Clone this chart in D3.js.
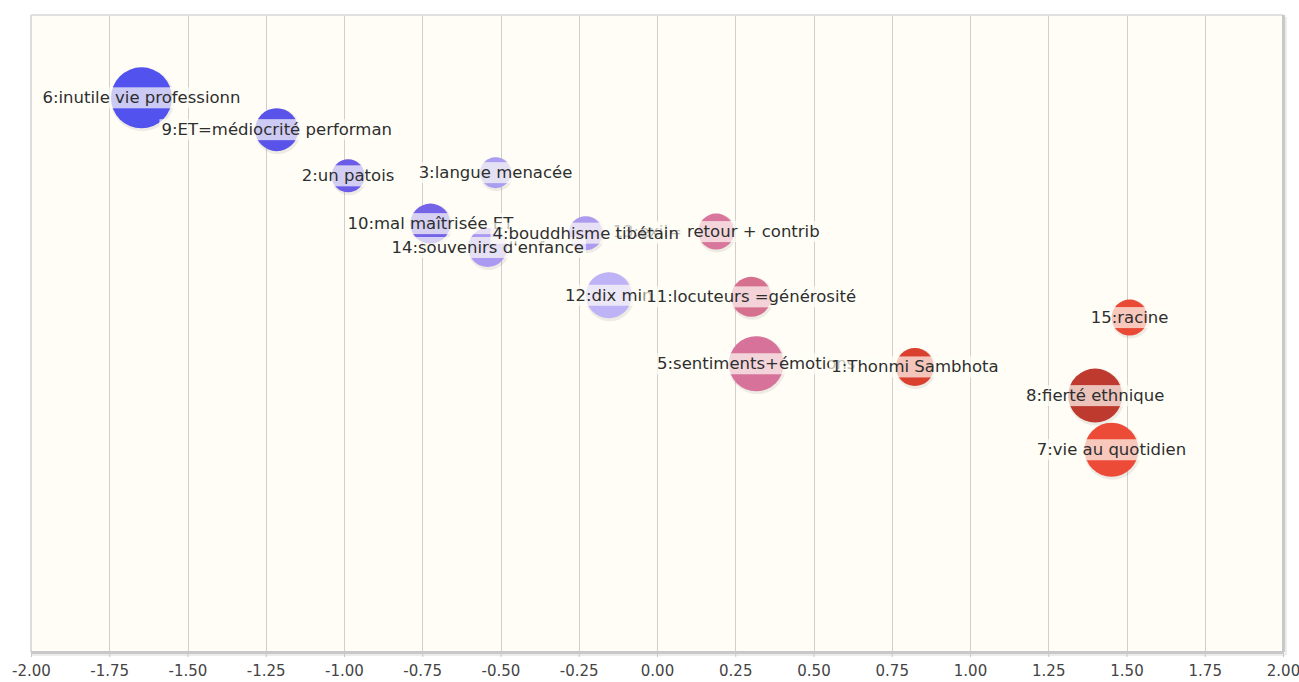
<!DOCTYPE html>
<html>
<head>
<meta charset="utf-8">
<script src="https://cdn.jsdelivr.net/npm/d3@7"></script>
<style>
  html, body { margin: 0; padding: 0; background: #ffffff; }
  svg { display: block; }
</style>
</head>
<body>
<svg id="chart" width="1299" height="682"></svg>
<script>
// ---- data ----
const labels = [
  "1:Thonmi Sambhota",
  "2:un patois",
  "3:langue menacée",
  "4:bouddhisme tibétain",
  "5:sentiments+émotions",
  "6:inutile vie professionn",
  "7:vie au quotidien",
  "8:fierté ethnique",
  "9:ET=médiocrité performan",
  "10:mal maîtrisée ET",
  "11:locuteurs =générosité",
  "12:dix min",
  "13:exil= retour + contrib",
  "14:souvenirs d'enfance",
  "15:racine"
];
const xValues = [0.824, -0.987, -0.516, -0.228, 0.317, -1.647, 1.452, 1.40, -1.215, -0.724, 0.301, -0.154, 0.189, -0.541, 1.51];
const yValues = [-0.21, 0.99, 1.01, 0.63, -0.19, 1.48, -0.73, -0.39, 1.28, 0.69, 0.23, 0.24, 0.64, 0.54, 0.10];
const sizes   = [19, 16.5, 15.5, 17, 27.5, 30.5, 27, 27, 21.5, 20, 20, 23, 18, 19.5, 18];
const colors  = ["#d9412e", "#6a5ce6", "#a99ef1", "#ad9bf0", "#d7739a", "#5252ee", "#ec4b37", "#bf3a2e",
                 "#5953ea", "#7564e8", "#d6708f", "#bdb3f6", "#d8779b", "#aa9af2", "#e84a36"];
const xTicks = [-2, -1.75, -1.5, -1.25, -1, -0.75, -0.5, -0.25, 0, 0.25, 0.5, 0.75, 1, 1.25, 1.5, 1.75, 2];
const xDomain = [-2, 2];
const yDomain = [-2, 2];

// ---- layout ----
const plot = { left: 31, right: 1283, top: 15, bottom: 652 };
const svg = d3.select("#chart");

const x = d3.scaleLinear().domain(xDomain).range([plot.left, plot.right]);
const y = d3.scaleLinear().domain(yDomain).range([plot.bottom, plot.top]);
const r = d3.scaleLinear().domain([0, d3.max(sizes)]).range([0, 30.5]);

const data = labels.map((l, i) => ({ label: l, x: xValues[i], y: yValues[i], s: sizes[i], c: colors[i], i }));

// plot background
svg.append("rect")
  .attr("x", plot.left).attr("y", plot.top)
  .attr("width", plot.right - plot.left).attr("height", plot.bottom - plot.top)
  .attr("fill", "#fffdf6");

// vertical grid lines
svg.append("g").selectAll("line")
  .data(xTicks.filter(t => t > xDomain[0] && t < xDomain[1]))
  .join("line")
  .attr("x1", d => Math.round(x(d)) + 0.5).attr("x2", d => Math.round(x(d)) + 0.5)
  .attr("y1", plot.top).attr("y2", plot.bottom)
  .attr("stroke", "#cfcfcf").attr("stroke-width", 1);

// borders
svg.append("line").attr("x1", plot.left).attr("x2", plot.right).attr("y1", plot.top).attr("y2", plot.top)
  .attr("stroke", "#e0e0e0").attr("stroke-width", 2);
svg.append("line").attr("x1", plot.left).attr("x2", plot.left).attr("y1", plot.top).attr("y2", plot.bottom)
  .attr("stroke", "#dcdcdc").attr("stroke-width", 2);
svg.append("line").attr("x1", plot.left).attr("x2", plot.right + 2).attr("y1", plot.bottom + 3).attr("y2", plot.bottom + 3)
  .attr("stroke", "#ececec").attr("stroke-width", 2);
svg.append("line").attr("x1", plot.right + 3).attr("x2", plot.right + 3).attr("y1", plot.top + 2).attr("y2", plot.bottom + 3)
  .attr("stroke", "#ececec").attr("stroke-width", 2);
svg.append("line").attr("x1", plot.left).attr("x2", plot.right + 1).attr("y1", plot.bottom + 0.5).attr("y2", plot.bottom + 0.5)
  .attr("stroke", "#c8c8c8").attr("stroke-width", 3);
svg.append("line").attr("x1", plot.right + 0.5).attr("x2", plot.right + 0.5).attr("y1", plot.top).attr("y2", plot.bottom)
  .attr("stroke", "#c8c8c8").attr("stroke-width", 3);

// x axis
const axis = svg.append("g")
  .attr("transform", `translate(0,${plot.bottom})`)
  .call(d3.axisBottom(x).tickValues(xTicks).tickSize(5).tickPadding(8)
        .tickFormat(d => d.toFixed(2)));
axis.select(".domain").remove();
axis.selectAll(".tick line").attr("stroke", "#c8c8c8");
axis.selectAll(".tick text")
  .attr("font-family", "DejaVu Sans, sans-serif")
  .attr("font-size", "15px")
  .attr("fill", "#444");

// bubbles (bigger drawn first)
svg.append("clipPath").attr("id", "plotclip").append("rect")
  .attr("x", plot.left).attr("y", plot.top)
  .attr("width", plot.right - plot.left).attr("height", plot.bottom - plot.top);
const gB = svg.append("g").attr("clip-path", "url(#plotclip)");
const sorted = data.slice().sort((a, b) => b.s - a.s);
sorted.forEach(d => {
  gB.append("circle")
    .attr("cx", x(d.x) + 1).attr("cy", y(d.y) + 1.5).attr("r", r(d.s) + 1.5)
    .attr("fill", "rgba(0,0,0,0.07)");
  gB.append("circle")
    .attr("cx", x(d.x)).attr("cy", y(d.y)).attr("r", r(d.s))
    .attr("fill", d.c);
});

// labels (lowest index on top)
const gL = svg.append("g");
data.slice().reverse().forEach(d => {
  const g = gL.append("g");
  const rect = g.append("rect");
  const t = g.append("text")
    .attr("x", x(d.x)).attr("y", y(d.y))
    .attr("text-anchor", "middle")
    .attr("dominant-baseline", "central")
    .attr("font-family", "DejaVu Sans, sans-serif")
    .attr("font-size", "16.5px")
    .attr("fill", "#2e2e2e")
    .text(d.label);
  const w = t.node().getComputedTextLength();
  rect.attr("x", x(d.x) - w / 2 - 2).attr("y", y(d.y) - 10.5)
    .attr("width", w + 4).attr("height", 21)
    .attr("fill", "rgba(255,253,246,0.7)");
});
</script>
</body>
</html>
